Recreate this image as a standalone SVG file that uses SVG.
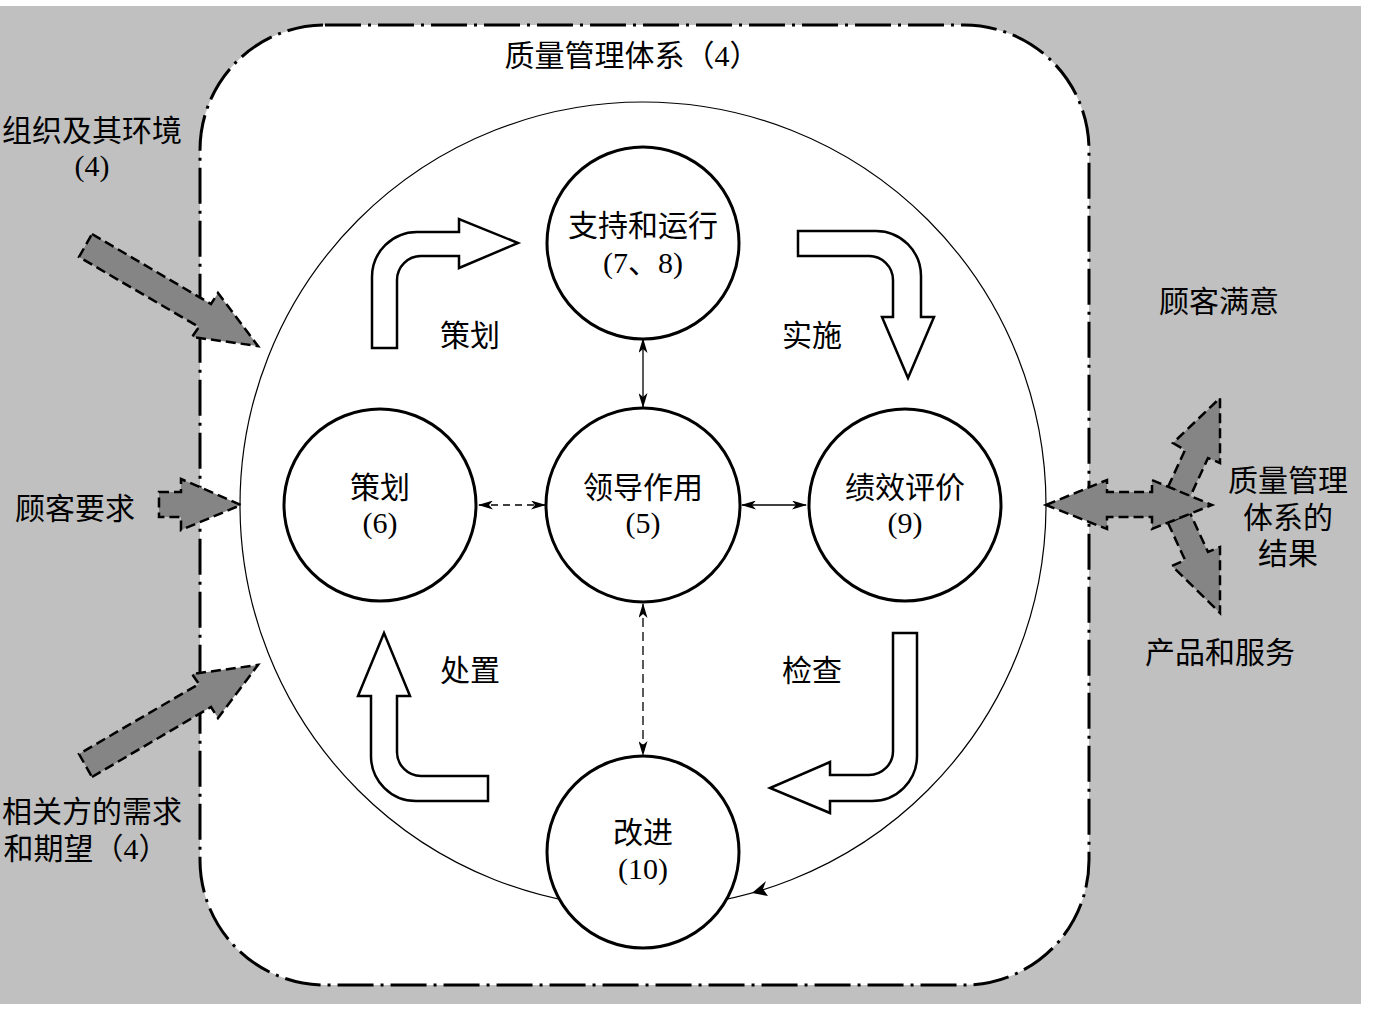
<svg xmlns="http://www.w3.org/2000/svg" width="1379" height="1011" viewBox="0 0 1379 1011">
<style>
.t{font-family:"Liberation Serif","Noto Sans CJK SC",serif;font-size:30px;fill:#000;text-anchor:middle}
.n{fill:#fff;stroke:#000;stroke-width:3}
.blk{fill:#fff;stroke:#000;stroke-width:2.5;stroke-linejoin:miter}
.gry{fill:#858585;stroke:#000;stroke-width:2.5;stroke-dasharray:10 5}
.con{fill:none;stroke:#000;stroke-width:1.3}
</style>
<defs>
<marker id="ah" viewBox="0 0 15 9" refX="14" refY="4.5" markerWidth="15" markerHeight="9" markerUnits="userSpaceOnUse" orient="auto-start-reverse">
<path d="M0,0 L15,4.5 L0,9 L4,4.5 Z" fill="#000"/>
</marker>
</defs>
<rect x="0" y="0" width="1379" height="1011" fill="#fff"/>
<rect x="0" y="6" width="1361" height="998" fill="#c0c0c0"/>
<g id="qms-boundary">
<rect x="200" y="25" width="889" height="960" rx="125" ry="125" fill="#fff" stroke="#000" stroke-width="3" stroke-dasharray="36 7 3 7"/>
<text class="t" x="632" y="66">质量管理体系（4）</text>
</g>
<g id="cycle-ring">
<circle cx="643" cy="505" r="403" fill="none" stroke="#000" stroke-width="1.2"/>
<path d="M752,893 L766,881 L763,889 L768,896 Z" fill="#000"/>
</g>
<g id="inputs">
<g id="in-org">
<polygon class="gry" points="92,234 211,304 218,293 258,346 192,337 199,327 79,257"/>
<text class="t" x="92" y="141">组织及其环境</text>
<text class="t" x="92" y="176">(4)</text>
</g>
<g id="in-customer">
<polygon class="gry" points="159,492 181,492 181,479 241,505 181,530 181,517 159,517"/>
<text class="t" x="75" y="519">顾客要求</text>
</g>
<g id="in-parties">
<polygon class="gry" points="92,777 211,707 218,718 258,665 192,674 199,684 79,754"/>
<text class="t" x="92" y="822">相关方的需求</text>
<text class="t" x="86" y="859">和期望（4）</text>
</g>
</g>
<g id="outputs">
<polygon class="gry" points="1168,487 1185,450 1173,443 1220,398 1220,463 1208,458 1190,497"/>
<polygon class="gry" points="1168,523 1185,560 1172,566 1220,613 1220,547 1208,552 1190,513"/>
<polygon class="gry" points="1046,505 1107,480 1107,492 1152,492 1152,480 1212,505 1152,529 1152,517 1107,517 1107,529"/>
<text class="t" x="1219" y="312">顾客满意</text>
<text class="t" x="1288" y="491">质量管理</text>
<text class="t" x="1288" y="528">体系的</text>
<text class="t" x="1288" y="564">结果</text>
<text class="t" x="1220" y="663">产品和服务</text>
</g>
<g id="pdca-arrows">
<path class="blk" d="M372,348 L372,277 A45,45 0 0 1 417,232 L459,232 L459,219 L518,243 L459,268 L459,256 L421,256 A24,24 0 0 0 397,280 L397,348 Z"/>
<path class="blk" d="M798,231 L876,231 A45,45 0 0 1 921,276 L921,317 L934,317 L908,378 L882,317 L893,317 L893,280 A24,24 0 0 0 869,256 L798,256 Z"/>
<path class="blk" d="M893,633 L917,633 L917,756 A45,45 0 0 1 872,801 L830,801 L830,813 L770,788 L830,762 L830,775 L869,775 A24,24 0 0 0 893,751 Z"/>
<path class="blk" d="M488,776 L488,801 L416,801 A45,45 0 0 1 371,756 L371,696 L358,696 L384,633 L410,696 L397,696 L397,752 A24,24 0 0 0 421,776 Z"/>
<text class="t" x="470" y="346">策划</text>
<text class="t" x="812" y="346">实施</text>
<text class="t" x="470" y="681">处置</text>
<text class="t" x="812" y="681">检查</text>
</g>
<g id="connectors">
<line class="con" x1="643" y1="339" x2="643" y2="407" marker-start="url(#ah)" marker-end="url(#ah)"/>
<line class="con" x1="479" y1="505" x2="545" y2="505" stroke-dasharray="7 5" marker-start="url(#ah)" marker-end="url(#ah)"/>
<line class="con" x1="742" y1="505" x2="806" y2="505" marker-start="url(#ah)" marker-end="url(#ah)"/>
<line class="con" x1="643" y1="604" x2="643" y2="755" stroke-dasharray="9 5" marker-start="url(#ah)" marker-end="url(#ah)"/>
</g>
<g id="node-support">
<circle class="n" cx="643" cy="243" r="96"/>
<text class="t" x="643" y="236">支持和运行</text>
<text class="t" x="643" y="273">(7、8)</text>
</g>
<g id="node-planning">
<circle class="n" cx="380" cy="505" r="96"/>
<text class="t" x="380" y="498">策划</text>
<text class="t" x="380" y="533">(6)</text>
</g>
<g id="node-leadership">
<circle class="n" cx="643" cy="505" r="97"/>
<text class="t" x="643" y="498">领导作用</text>
<text class="t" x="643" y="533">(5)</text>
</g>
<g id="node-evaluation">
<circle class="n" cx="905" cy="505" r="96"/>
<text class="t" x="905" y="498">绩效评价</text>
<text class="t" x="905" y="533">(9)</text>
</g>
<g id="node-improvement">
<circle class="n" cx="643" cy="852" r="96"/>
<text class="t" x="643" y="843">改进</text>
<text class="t" x="643" y="879">(10)</text>
</g>
</svg>
